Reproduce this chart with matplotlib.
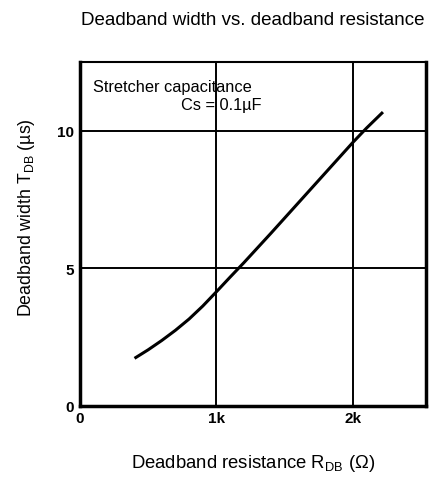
import matplotlib
matplotlib.use("Agg")
import matplotlib.pyplot as plt
import numpy as np

plt.rcParams['font.family'] = ['Liberation Sans', 'DejaVu Sans']

# Data
resistance_k = [0.40, 0.50, 0.60, 0.70, 0.80, 0.90, 1.00, 1.10, 1.20, 1.30,
                1.40, 1.50, 1.60, 1.70, 1.80, 1.90, 2.00, 2.10, 2.22]
width_us = [1.73, 2.04, 2.38, 2.75, 3.16, 3.63, 4.15, 4.68, 5.20, 5.74,
            6.28, 6.83, 7.38, 7.93, 8.48, 9.03, 9.58, 10.10, 10.68]
x_ticks = [0, 1, 2]
x_tick_labels = ['0', '1k', '2k']
y_ticks = [0, 5, 10]
y_tick_labels = ['0', '5', '10']

fig = plt.figure(figsize=(4.32, 4.81), dpi=100)
ax = fig.add_axes([0.185, 0.154, 0.801, 0.715])

ax.plot(resistance_k, width_us, color='black', lw=2.2, solid_capstyle='butt')

ax.set_xlim(0, 2.535)
ax.set_ylim(0, 12.5)
ax.set_xticks(x_ticks)
ax.set_xticklabels(x_tick_labels, fontsize=11, fontweight='bold')
ax.set_yticks(y_ticks)
ax.set_yticklabels(y_tick_labels, fontsize=11, fontweight='bold')
ax.tick_params(length=0, pad=4)
ax.grid(True, color='black', lw=1.4)

for side, lw in [('left', 2.5), ('bottom', 2.5), ('right', 2.5), ('top', 1.5)]:
    ax.spines[side].set_linewidth(lw)

ax.text(0.095, 11.6, 'Stretcher capacitance', fontsize=11.8, va='center', ha='left')
ax.text(1.33, 10.95, 'Cs = 0.1µF', fontsize=11.8, va='center', ha='right')

ax.set_xlabel('Deadband resistance R$_{\\mathregular{DB}}$ (Ω)', fontsize=13.3)
ax.xaxis.set_label_coords(0.5, -0.135)
ax.set_ylabel('Deadband width T$_{\\mathregular{DB}}$ (µs)', fontsize=12.8)
ax.yaxis.set_label_coords(-0.125, 0.55)

fig.text(0.586, 0.958, 'Deadband width vs. deadband resistance', fontsize=13.5,
         ha='center', va='center')

fig.savefig('out.png', dpi=100)
